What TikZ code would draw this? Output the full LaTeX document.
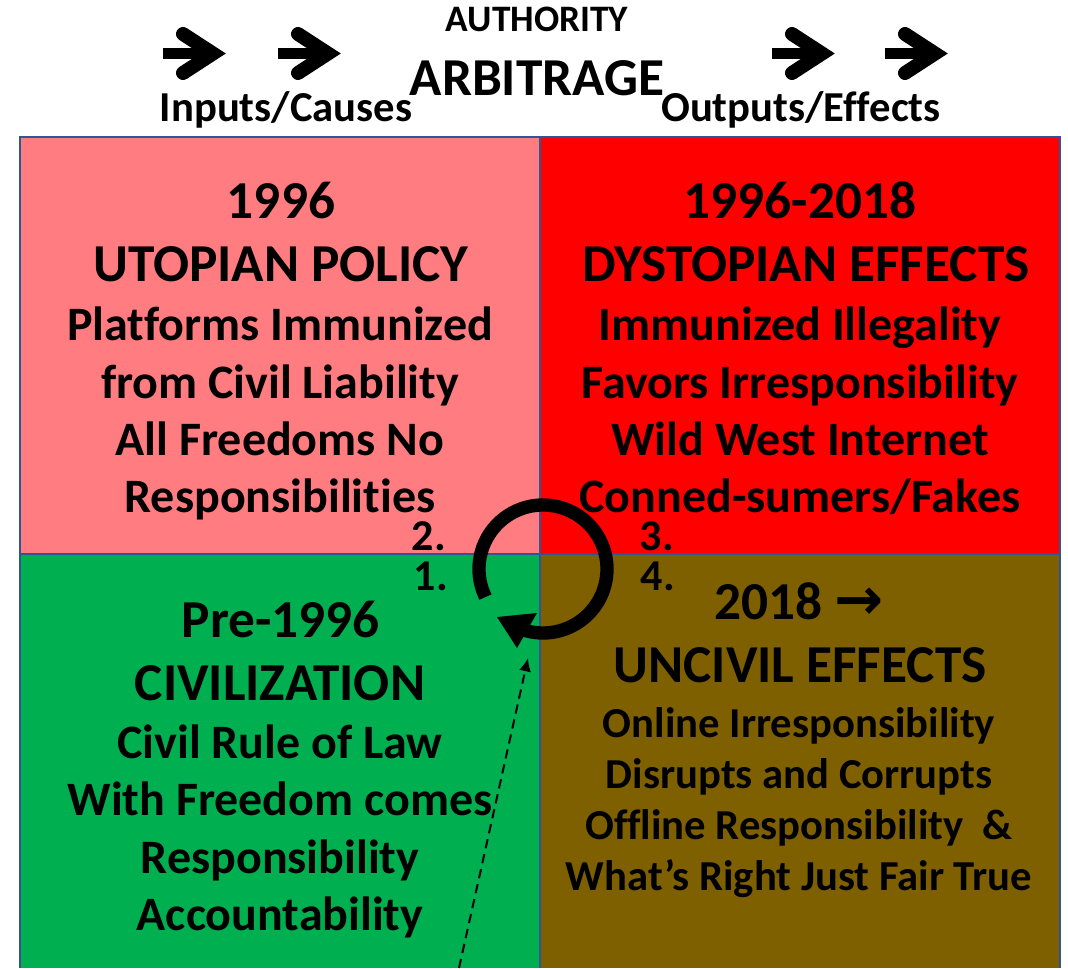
\documentclass[tikz,border=0pt]{standalone}
\usepackage{fontspec}
\setmainfont{Carlito}[Ligatures=NoCommon]
\newfontfamily\symfont{DejaVu Sans}
\usetikzlibrary{arrows.meta}
\definecolor{policy}{HTML}{FF7C80}
\definecolor{dystopia}{HTML}{FF0000}
\definecolor{civil}{HTML}{00B050}
\definecolor{uncivil}{HTML}{7F6000}
\definecolor{frame}{HTML}{2F5597}

\begin{document}
\begin{tikzpicture}[x=0.75pt,y=0.75pt,
    every node/.style={anchor=base,inner sep=0pt},
    title/.style={font=\bfseries\fontsize{40}{40}\selectfont},
    body/.style={font=\bfseries\fontsize{36}{36}\selectfont},
    small/.style={font=\bfseries\fontsize{32}{32}\selectfont},
    num/.style={font=\bfseries\fontsize{33}{33}\selectfont},
    quad/.style={draw=frame,line width=1.5pt}]
\useasboundingbox (0,0) rectangle (1068,-968);

% quadrants
\fill[policy] (20,-137) rectangle (540,-554);
\fill[dystopia] (540,-137) rectangle (1060,-554);
\fill[civil] (20,-554) rectangle (540,-968);
\fill[uncivil] (540,-554) rectangle (1060,-968);
\draw[quad] (20,-968) -- (20,-137) -- (1060,-137) -- (1060,-968);
\draw[quad] (540,-137) -- (540,-968);
\draw[quad] (20,-554) -- (1060,-554);

% heading
\foreach \dx in {0,115,609,722} {
  \draw[line width=8.25pt] (163+\dx,-53.5) -- (212+\dx,-53.5);
  \draw[line width=10.5pt,line cap=round,line join=miter] (183+\dx,-34) -- (213+\dx,-53.5) -- (183+\dx,-73);
}
\node[font=\bfseries\fontsize{28}{28}\selectfont] (authority) at (537,-31) {AUTHORITY};
\node[font=\bfseries\fontsize{40}{40}\selectfont] (arbitrage) at (537,-95) {ARBITRAGE};
\node[font=\bfseries\fontsize{32}{32}\selectfont] (inputs) at (286,-121) {Inputs/Causes};
\node[font=\bfseries\fontsize{32}{32}\selectfont] (outputs) at (801,-121) {Outputs/Effects};

% upper left
\node[title] (ul-1) at (281,-218) {1996};
\node[title] (ul-2) at (281,-281) {UTOPIAN POLICY};
\foreach \y/\t [count=\i] in {340/{Platforms Immunized},398/{from Civil Liability},455/{All Freedoms No},512/{Responsibilities}}
  \node[body] (ul-b\i) at (280,-\y) {\t};

% upper right
\node[title] (ur-1) at (800,-218) {1996-2018};
\node[title] (ur-2) at (806,-281) {DYSTOPIAN EFFECTS};
\foreach \y/\t [count=\i] in {340/{Immunized Illegality},398/{Favors Irresponsibility},455/{Wild West Internet},512/{Conned-sumers/Fakes}}
  \node[body] (ur-b\i) at (800,-\y) {\t};

% lower left
\node[title] (ll-1) at (281,-637) {Pre-1996};
\node[title] (ll-2) at (280,-700) {CIVILIZATION};
\foreach \y/\t [count=\i] in {758/{Civil Rule of Law},815/{With Freedom comes},873/{Responsibility},930/{Accountability}}
  \node[body] (ll-b\i) at (280,-\y) {\t};

% lower right
\node[title] (lr-1) at (799,-619) {2018 {\symfont\bfseries\fontsize{44}{44}\selectfont→}};
\node[title] (lr-2) at (800,-682) {UNCIVIL EFFECTS};
\foreach \y/\t [count=\i] in {737/{Online Irresponsibility},788/{Disrupts and Corrupts},839/{Offline Responsibility~~\&},890/{What’s Right Just Fair True}}
  \node[small] (lr-b\i) at (799,-\y) {\t};

% cycle
\node[num] (n2) at (429,-550) {2.};
\node[num] (n1) at (431,-590) {1.};
\node[num] (n3) at (657,-550) {3.};
\node[num] (n4) at (658,-590) {4.};
\draw[line width=10pt] ([shift={(206:64)}]543,-569) arc[start angle=206,end angle=-107,radius=64];
\fill (497,-617) -- (537,-613) -- (517,-648) -- cycle;

\coordinate (dashtail) at (459,-968);
\coordinate (dashtip) at (528,-658);
\draw[line width=1.5pt,dash pattern=on 7pt off 4.5pt,-{Latex[length=10pt,width=9pt]}] (dashtail) -- (dashtip);
\end{tikzpicture}
\end{document}
